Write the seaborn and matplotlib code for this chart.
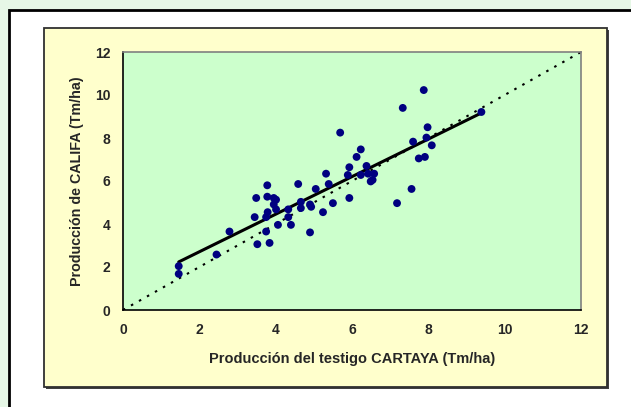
import numpy as np
import pandas as pd
import matplotlib
matplotlib.use("Agg")
import matplotlib.pyplot as plt
from matplotlib.patches import Rectangle
import seaborn as sns

# --- data ---
testigo = [1.46, 1.46, 2.45, 2.79, 3.45, 3.49, 3.52, 3.78, 3.78, 3.79,
           3.75, 3.75, 3.84, 3.95, 4.01, 3.95, 4.01, 4.06, 4.33, 4.33,
           4.40, 4.59, 4.66, 4.66, 4.90, 4.93, 4.90, 5.05, 5.24, 5.32,
           5.39, 5.50, 5.69, 5.93, 5.89, 5.93, 6.12, 6.23, 6.23, 6.38,
           6.42, 6.58, 6.49, 6.54, 7.18, 7.33, 7.56, 7.60, 7.75, 7.91,
           7.88, 7.95, 7.98, 8.09, 9.39]
califa = [2.04, 1.68, 2.58, 3.65, 4.32, 5.21, 3.06, 5.80, 5.27, 4.55,
          4.32, 3.65, 3.12, 5.21, 5.13, 4.91, 4.68, 3.96, 4.68, 4.32,
          3.96, 5.86, 5.03, 4.74, 4.91, 4.80, 3.61, 5.63, 4.55, 6.34,
          5.86, 4.97, 8.25, 5.21, 6.28, 6.64, 7.12, 7.47, 6.28, 6.70,
          6.34, 6.34, 5.98, 6.05, 4.97, 9.40, 5.63, 7.83, 7.05, 7.12,
          10.23, 8.02, 8.50, 7.66, 9.21]
axis_lim = [0, 12]
ticks = [0, 2, 4, 6, 8, 10, 12]
xlabel = "Producción del testigo CARTAYA (Tm/ha)"
ylabel = "Producción de CALIFA (Tm/ha)"

df = pd.DataFrame({"testigo": testigo, "califa": califa})

sns.set_style("white")
plt.rcParams["font.family"] = ["Liberation Sans", "DejaVu Sans"]

W, H = 631, 407
fig = plt.figure(figsize=(W / 100, H / 100), dpi=100, facecolor="#E6F7E6")

def fx(px):
    return px / W

def fy(py):
    return 1 - py / H

# outer white frame with black border (extends beyond the image)
fig.patches.append(Rectangle((fx(9), fy(420)), fx(640) - fx(9), fy(10) - fy(420),
                             transform=fig.transFigure, facecolor="white",
                             edgecolor="black", lw=2, zorder=0))
# shadow + yellow chart box
fig.patches.append(Rectangle((fx(46), fy(389)), fx(609) - fx(46), fy(30) - fy(389),
                             transform=fig.transFigure, facecolor="#404040",
                             edgecolor="none", zorder=0.5))
fig.patches.append(Rectangle((fx(44), fy(387)), fx(607) - fx(44), fy(28) - fy(387),
                             transform=fig.transFigure, facecolor="#FFFFCC",
                             edgecolor="#303030", lw=1.3, zorder=1))

ax = fig.add_axes([fx(123), fy(310), fx(581) - fx(123), fy(52) - fy(310)])
ax.set_facecolor("#CCFFCC")
ax.set_zorder(2)

# identity line (dotted)
ax.plot(axis_lim, axis_lim, color="black", lw=1.5, ls=(0, (1.2, 3.2)), zorder=2)

sns.regplot(data=df, x="testigo", y="califa", ax=ax, scatter=False, ci=None,
            truncate=True, line_kws={"color": "black", "lw": 2.2, "zorder": 3})
sns.scatterplot(data=df, x="testigo", y="califa", ax=ax, color="#000080",
                s=32, edgecolor="none", zorder=4)

ax.set_xlim(axis_lim)
ax.set_ylim(axis_lim)
ax.set_xticks(ticks)
ax.set_yticks(ticks)
ax.tick_params(axis="both", direction="out", length=4, width=1, color="black",
               labelsize=10, pad=5)
for lab in ax.get_xticklabels() + ax.get_yticklabels():
    lab.set_fontweight("bold")

for side in ["left", "bottom"]:
    ax.spines[side].set_color("black")
    ax.spines[side].set_linewidth(1.2)
for side in ["top", "right"]:
    ax.spines[side].set_color("#808080")
    ax.spines[side].set_linewidth(1.2)

ax.set_xlabel(xlabel, fontsize=10.5, fontweight="bold", labelpad=11)
ax.set_ylabel(ylabel, fontsize=10.3, fontweight="bold", labelpad=8)

fig.savefig("out.png", dpi=100, facecolor=fig.get_facecolor())
